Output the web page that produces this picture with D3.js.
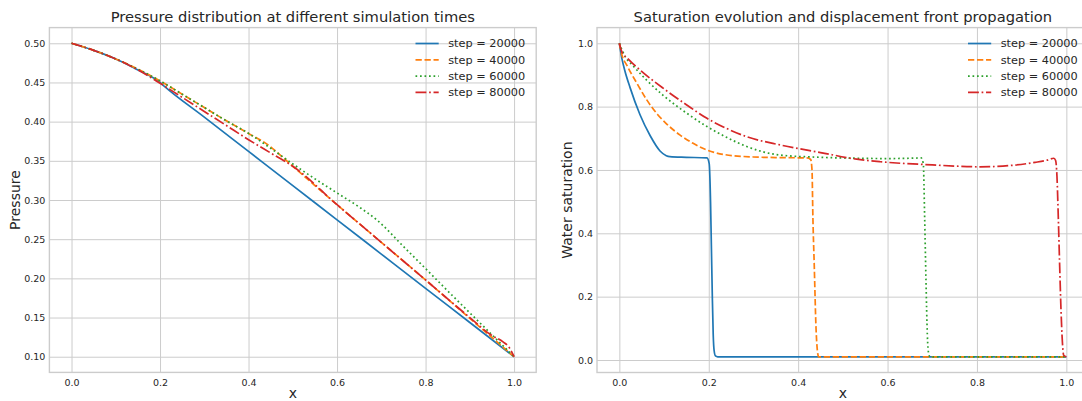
<!DOCTYPE html>
<html><head><meta charset="utf-8">
<script src="https://cdn.jsdelivr.net/npm/d3@7/dist/d3.min.js"></script>
<style>
html,body{margin:0;padding:0;background:#fff;}
svg{display:block;font-family:"DejaVu Sans",sans-serif;}
</style></head>
<body><svg id="chart" width="1082" height="401"></svg>
<script>
// ---------- data ----------
const seriesLabels = ["step = 20000", "step = 40000", "step = 60000", "step = 80000"];
const seriesColors = ["#1f77b4", "#ff7f0e", "#2ca02c", "#d62728"];

const xTicks = [0.0, 0.2, 0.4, 0.6, 0.8, 1.0];
const pressureTicks = [0.10, 0.15, 0.20, 0.25, 0.30, 0.35, 0.40, 0.45, 0.50];
const saturationTicks = [0.0, 0.2, 0.4, 0.6, 0.8, 1.0];

// Pressure profiles
const pX20000 = [0, 0.05, 0.1, 0.15, 0.2, 0.21, 0.3, 0.4, 0.5, 0.6, 0.7, 0.8, 0.9, 1.0];
const pY20000 = [0.5, 0.491, 0.480, 0.466, 0.450, 0.445, 0.4057, 0.362, 0.3183, 0.2747, 0.231, 0.1873, 0.1437, 0.1];
const pX40000 = [0, 0.05, 0.1, 0.15, 0.2, 0.25, 0.3, 0.35, 0.4, 0.44, 0.5, 0.6, 0.7, 0.8, 0.9, 1.0];
const pY40000 = [0.5, 0.491, 0.480, 0.467, 0.452, 0.435, 0.418, 0.401, 0.385, 0.372, 0.343, 0.294, 0.246, 0.198, 0.149, 0.1];
const pX60000 = [0, 0.05, 0.1, 0.15, 0.2, 0.25, 0.3, 0.35, 0.4, 0.45, 0.5, 0.55, 0.6, 0.65, 0.69, 0.75, 0.8, 0.85, 0.9, 0.95, 1.0];
const pY60000 = [0.5, 0.491, 0.480, 0.467, 0.452, 0.435, 0.418, 0.401, 0.385, 0.366, 0.346, 0.327, 0.309, 0.291, 0.2745, 0.2407, 0.2125, 0.184, 0.156, 0.128, 0.1];
const pX80000 = [0, 0.05, 0.1, 0.15, 0.2, 0.25, 0.3, 0.35, 0.4, 0.45, 0.5, 0.6, 0.7, 0.8, 0.9, 0.95, 0.975, 0.99, 1.0];
const pY80000 = [0.5, 0.491, 0.480, 0.466, 0.449, 0.431, 0.413, 0.395, 0.377, 0.360, 0.343, 0.294, 0.246, 0.198, 0.150, 0.127, 0.119, 0.111, 0.1];

// Water saturation profiles
const sX20000 = [0, 0.006, 0.012, 0.024, 0.046, 0.069, 0.091, 0.105, 0.113, 0.15, 0.196, 0.201, 0.204, 0.206, 0.208, 0.21, 0.212, 0.215, 0.22, 1.0];
const sY20000 = [1.0, 0.95, 0.915, 0.86, 0.775, 0.708, 0.66, 0.645, 0.642, 0.64, 0.638, 0.62, 0.5, 0.35, 0.2, 0.08, 0.03, 0.013, 0.01, 0.01];
const sX40000 = [0, 0.006, 0.017, 0.04, 0.061, 0.085, 0.106, 0.136, 0.165, 0.196, 0.233, 0.3, 0.36, 0.42, 0.428, 0.431, 0.433, 0.436, 0.44, 0.443, 0.446, 1.0];
const sY40000 = [1.0, 0.962, 0.93, 0.872, 0.822, 0.776, 0.745, 0.71, 0.684, 0.663, 0.649, 0.641, 0.639, 0.638, 0.633, 0.6, 0.45, 0.3, 0.1, 0.03, 0.01, 0.01];
const sX60000 = [0, 0.013, 0.03, 0.06, 0.0985, 0.15, 0.196, 0.24, 0.285, 0.36, 0.45, 0.531, 0.6, 0.65, 0.675, 0.68, 0.683, 0.686, 0.689, 0.692, 0.695, 1.0];
const sY60000 = [1.0, 0.958, 0.93, 0.885, 0.835, 0.78, 0.737, 0.703, 0.674, 0.647, 0.64, 0.637, 0.636, 0.637, 0.638, 0.62, 0.45, 0.25, 0.08, 0.02, 0.01, 0.01];
const sX80000 = [0, 0.005, 0.02, 0.046, 0.1, 0.15, 0.196, 0.24, 0.285, 0.36, 0.45, 0.531, 0.584, 0.7, 0.807, 0.882, 0.93, 0.957, 0.972, 0.976, 0.979, 0.982, 0.985, 0.988, 0.991, 0.994, 1.0];
const sY80000 = [1.0, 0.975, 0.95, 0.916, 0.856, 0.806, 0.763, 0.731, 0.705, 0.679, 0.655, 0.634, 0.626, 0.616, 0.610, 0.615, 0.624, 0.631, 0.637, 0.63, 0.58, 0.45, 0.3, 0.16, 0.06, 0.015, 0.01];

// ---------- drawing ----------
const svg = d3.select("#chart");
const lw = 1.7;
const dashes = ["none",
  [3.7*lw, 1.6*lw].join(","),
  [1*lw, 1.65*lw].join(","),
  [6.4*lw, 1.6*lw, 1*lw, 1.6*lw].join(",")];
const textColor = "#262626";
const gridColor = "#cccccc";

function zip(xs, ys){ return xs.map((x,i)=>[x, ys[i]]); }

function panel(cfg){
  const x = d3.scaleLinear().domain([-0.05, 1.05]).range([cfg.left, cfg.right]);
  const y = d3.scaleLinear().domain(cfg.yDomain).range([cfg.bottom, cfg.top]);
  const g = svg.append("g");

  // grid + tick labels
  const xAxis = d3.axisBottom(x).tickValues(xTicks).tickFormat(d3.format(".1f"))
      .tickSize(-(cfg.bottom - cfg.top)).tickPadding(7);
  const gx = g.append("g").attr("transform", `translate(0,${cfg.bottom})`).call(xAxis);
  const yAxis = d3.axisLeft(y).tickValues(cfg.yTicks).tickFormat(d3.format(cfg.yFmt))
      .tickSize(-(cfg.right - cfg.left)).tickPadding(4);
  const gy = g.append("g").attr("transform", `translate(${cfg.left},0)`).call(yAxis);
  [gx, gy].forEach(a => {
    a.select(".domain").remove();
    a.selectAll(".tick line").attr("stroke", gridColor).attr("stroke-width", 1);
    a.selectAll(".tick text").attr("fill", textColor).attr("font-size", 9.5)
      .attr("font-family", "DejaVu Sans");
  });

  // frame
  g.append("rect").attr("x", cfg.left).attr("y", cfg.top)
    .attr("width", cfg.right - cfg.left).attr("height", cfg.bottom - cfg.top)
    .attr("fill", "none").attr("stroke", gridColor).attr("stroke-width", 1.4);

  // lines
  const line = d3.line().x(d => x(d[0])).y(d => y(d[1])).curve(d3.curveMonotoneX);
  cfg.series.forEach((s, i) => {
    g.append("path").datum(s).attr("d", line)
      .attr("fill", "none").attr("stroke", seriesColors[i]).attr("stroke-width", lw)
      .attr("stroke-dasharray", dashes[i]).attr("stroke-linecap", "butt")
      .attr("stroke-linejoin", "round");
  });

  // title
  g.append("text").attr("x", (cfg.left + cfg.right)/2).attr("y", 21.5)
    .attr("text-anchor", "middle").attr("font-size", 14.7).attr("fill", textColor)
    .text(cfg.title);
  // x label
  g.append("text").attr("x", x(0.5)).attr("y", 398)
    .attr("text-anchor", "middle").attr("font-size", 14).attr("fill", textColor).text("x");
  // y label
  g.append("text").attr("transform", `translate(${cfg.ylabelX},${(cfg.top+cfg.bottom)/2}) rotate(-90)`)
    .attr("text-anchor", "middle").attr("dy", "0.35em").attr("font-size", 14).attr("fill", textColor)
    .text(cfg.ylabel);

  // legend
  const lg = g.append("g");
  seriesLabels.forEach((lab, i) => {
    const yy = 43.5 + i*16.3;
    lg.append("line").attr("x1", cfg.right - 120.7).attr("x2", cfg.right - 97.5)
      .attr("y1", yy).attr("y2", yy).attr("stroke", seriesColors[i]).attr("stroke-width", lw)
      .attr("stroke-dasharray", dashes[i]);
    lg.append("text").attr("x", cfg.right - 88).attr("y", yy).attr("dy", "0.35em")
      .attr("font-size", 11.3).attr("fill", textColor).text(lab);
  });
}

panel({
  left: 49.4, right: 536.2, top: 27.6, bottom: 372.4,
  yDomain: [0.08, 0.52], yTicks: pressureTicks, yFmt: ".2f",
  title: "Pressure distribution at different simulation times",
  ylabel: "Pressure", ylabelX: 15,
  series: [zip(pX20000, pY20000), zip(pX40000, pY40000), zip(pX60000, pY60000), zip(pX80000, pY80000)]
});
panel({
  left: 597, right: 1088.7, top: 27.6, bottom: 372.5,
  yDomain: [-0.0395, 1.0495], yTicks: saturationTicks, yFmt: ".1f",
  title: "Saturation evolution and displacement front propagation",
  ylabel: "Water saturation", ylabelX: 567,
  series: [zip(sX20000, sY20000), zip(sX40000, sY40000), zip(sX60000, sY60000), zip(sX80000, sY80000)]
});
</script></body></html>
